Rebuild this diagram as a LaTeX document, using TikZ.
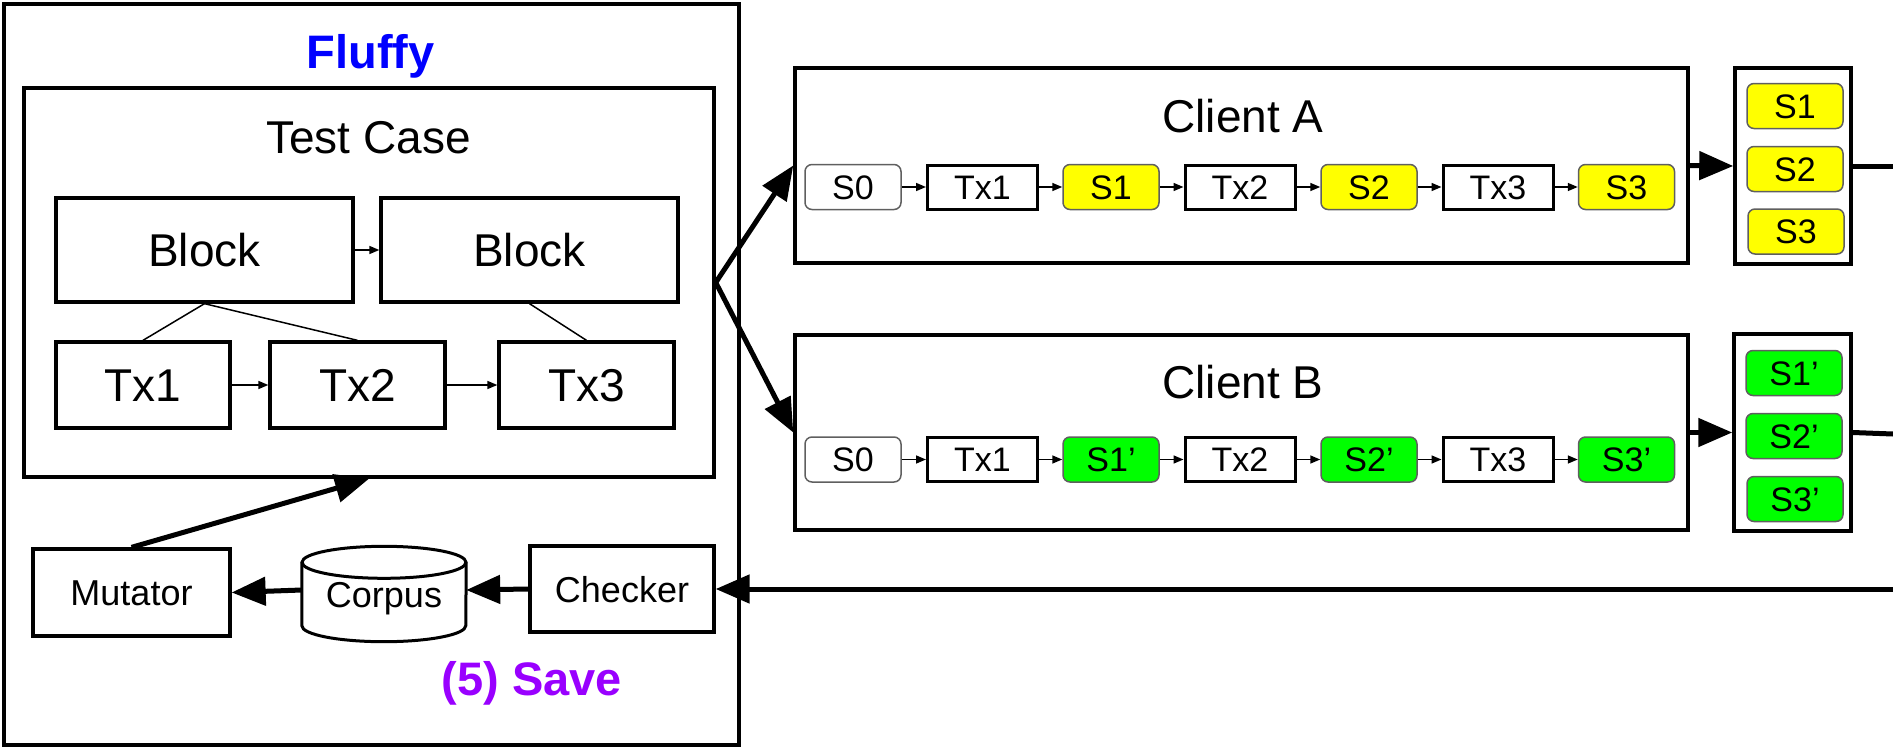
\documentclass[tikz,border=0pt]{standalone}
\usepackage{fontspec}
\setmainfont{Liberation Sans}
\usetikzlibrary{arrows.meta,calc}
\definecolor{fluffyblue}{HTML}{0000FF}
\definecolor{savepurple}{HTML}{9900FF}
\definecolor{stateyellow}{HTML}{FFFF00}
\definecolor{stategreen}{HTML}{00FF00}
\definecolor{stateedge}{HTML}{5F5F5F}
\newcommand{\fs}[1]{\fontsize{#1}{#1}\selectfont}
\tikzset{
  frame/.style={draw, line width=4pt, inner sep=0pt},
  box/.style={draw, line width=3.3pt, inner sep=0pt, fill=white,
    font=\fs{46}, text height=33pt, text depth=0pt},
  smallbox/.style={draw, line width=3.3pt, inner sep=0pt, fill=white,
    font=\fs{36}, text height=26pt, text depth=0pt},
  rowtx/.style={draw, line width=3pt, inner sep=0pt, fill=white,
    minimum width=110pt, minimum height=44pt,
    font=\fs{34}, text height=24pt, text depth=0pt},
  state/.style={draw=stateedge, line width=1.5pt, rounded corners=7pt, inner sep=0pt,
    minimum width=96pt, minimum height=45pt,
    font=\fs{34}, text height=24pt, text depth=0pt},
  thin/.style={line width=1.5pt, -{Triangle[length=10pt,width=8pt]}},
  link/.style={line width=1.5pt},
  big/.style={line width=5pt, -{Triangle[length=34pt,width=28pt]}},
  heavy/.style={line width=5pt},
}
\begin{document}
\begin{tikzpicture}[x=1pt,y=-1pt]
\useasboundingbox (0,0) rectangle (1893,747);

% Fluffy frame
\node[frame, minimum width=735pt, minimum height=741pt] (fl) at (371.5,374.5) {};
\node[anchor=base, font=\fs{47}\bfseries, text=fluffyblue] (fltitle) at (370.5,68) {Fluffy};

% Test case with blocks and transactions
\node[draw, line width=3.5pt, fill=white, minimum width=690pt, minimum height=389pt] (tc) at (369,282.5) {};
\node[anchor=base, font=\fs{46}] (tctitle) at (368.5,153) {Test Case};
\node[box, minimum width=297pt, minimum height=104pt] (b1) at (204.5,250) {Block};
\node[box, minimum width=297pt, minimum height=104pt] (b2) at (529.5,250) {Block};
\node[box, minimum width=174pt, minimum height=86pt] (t1) at (143,385) {Tx1};
\node[box, minimum width=175pt, minimum height=86pt] (t2) at (357.5,385) {Tx2};
\node[box, minimum width=175pt, minimum height=86pt] (t3) at (586.5,385) {Tx3};
\draw[thin] (b1.east) -- (b2.west);
\draw[thin] (t1.east) -- (t2.west);
\draw[thin] (t2.east) -- (t3.west);
\draw[link] (b1.south) -- (t1.north);
\draw[link] (b1.south) -- (t2.north);
\draw[link] (b2.south) -- (t3.north);

% Mutator, corpus, checker
\node[smallbox, minimum width=197pt, minimum height=87pt] (mut) at (131.5,592.5) {Mutator};
\node[inner sep=0pt, minimum width=164pt, minimum height=95pt,
  font=\fs{36}, text height=26pt, text depth=0pt] (corpus) at (384,594) {Corpus};
\draw[line width=3pt] ($(corpus.north west)+(0,16)$) -- ($(corpus.south west)+(0,-16)$)
  arc[start angle=180, end angle=360, x radius=82pt, y radius=16pt]
  -- ($(corpus.north east)+(0,16)$);
\draw[line width=3pt] ($(corpus.north)+(0,16)$) ellipse[x radius=82pt, y radius=16pt];
\node[smallbox, minimum width=184pt, minimum height=86pt] (chk) at (622,589) {Checker};
\node[anchor=base, font=\fs{47}\bfseries, text=savepurple] (save) at (532,695) {(5) Save};

\draw[big] (mut.north) -- (tc.south);
\draw[big] (chk.west) -- ($(corpus.east)+(0,-4)$);
\draw[big] ($(corpus.west)+(0,-4)$) -- (mut.east);

% Client A
\node[draw, line width=3.5pt, minimum width=893pt, minimum height=195pt] (ca) at (1241.5,165.5) {};
\node[anchor=base, font=\fs{46}] (catitle) at (1243,132) {Client A};
\node[state] (a0) at (853,187) {S0};
\node[rowtx] (at1) at (982.5,187) {Tx1};
\node[state, fill=stateyellow] (a1) at (1111,187) {S1};
\node[rowtx] (at2) at (1240,187) {Tx2};
\node[state, fill=stateyellow] (a2) at (1369,187) {S2};
\node[rowtx] (at3) at (1498,187) {Tx3};
\node[state, fill=stateyellow] (a3) at (1626.5,187) {S3};
\draw[thin] (a0) -- (at1);
\draw[thin] (at1) -- (a1);
\draw[thin] (a1) -- (at2);
\draw[thin] (at2) -- (a2);
\draw[thin] (a2) -- (at3);
\draw[thin] (at3) -- (a3);

% Client B
\node[draw, line width=3.5pt, minimum width=893pt, minimum height=195pt] (cb) at (1241.5,432.5) {};
\node[anchor=base, font=\fs{46}] (cbtitle) at (1243,398) {Client B};
\node[state] (b0) at (853,459.5) {S0};
\node[rowtx] (bt1) at (982.5,459.5) {Tx1};
\node[state, fill=stategreen] (bs1) at (1111,459.5) {S1’};
\node[rowtx] (bt2) at (1240,459.5) {Tx2};
\node[state, fill=stategreen] (bs2) at (1369,459.5) {S2’};
\node[rowtx] (bt3) at (1498,459.5) {Tx3};
\node[state, fill=stategreen] (bs3) at (1626.5,459.5) {S3’};
\draw[thin] (b0) -- (bt1);
\draw[thin] (bt1) -- (bs1);
\draw[thin] (bs1) -- (bt2);
\draw[thin] (bt2) -- (bs2);
\draw[thin] (bs2) -- (bt3);
\draw[thin] (bt3) -- (bs3);

% Collected states
\node[draw, line width=3.5pt, minimum width=116pt, minimum height=196pt] (sa) at (1793,166) {};
\node[state, fill=stateyellow] (sa1) at (1795,106) {S1};
\node[state, fill=stateyellow] (sa2) at (1795,169) {S2};
\node[state, fill=stateyellow] (sa3) at (1796,231.5) {S3};
\node[draw, line width=3.5pt, minimum width=117pt, minimum height=197pt] (sb) at (1792.5,432.5) {};
\node[state, fill=stategreen] (sb1) at (1794,373) {S1’};
\node[state, fill=stategreen] (sb2) at (1794,436) {S2’};
\node[state, fill=stategreen] (sb3) at (1795,499) {S3’};

% Flows
\draw[big] (tc.east) -- (ca.west);
\draw[big] (tc.east) -- (cb.west);
\draw[big] (ca.east) -- (sa.west);
\draw[big] (cb.east) -- (sb.west);
\coordinate (outa) at (1893,166);
\coordinate (outb) at (1893,434);
\coordinate (back) at (1893,589);
\draw[heavy] (sa.east) -- (outa);
\draw[heavy] (sb.east) -- (outb);
\draw[big] (back) -- (chk.east);
\end{tikzpicture}
\end{document}
